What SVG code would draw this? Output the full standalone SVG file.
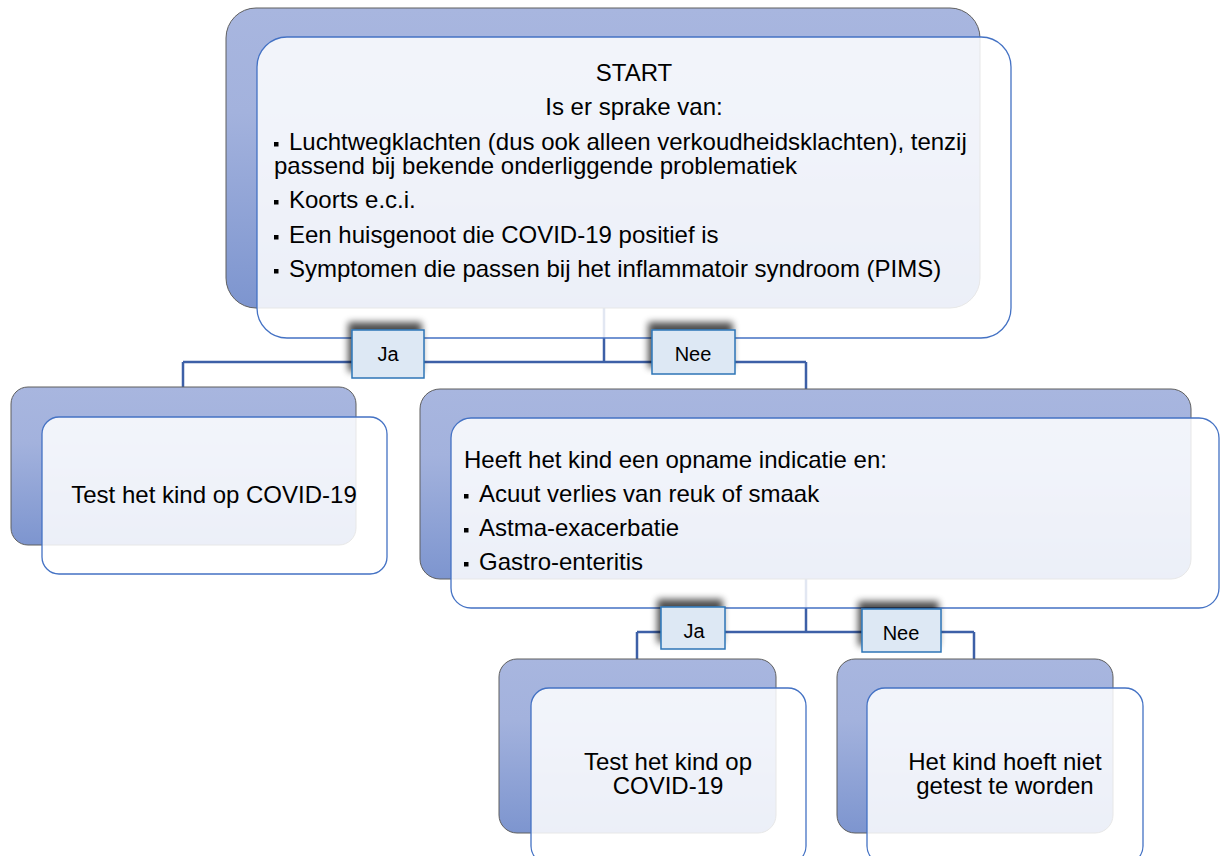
<svg xmlns="http://www.w3.org/2000/svg" width="1220" height="856" viewBox="0 0 1220 856">
<style>
.back{fill:url(#backGrad);stroke:#5f5f5f;stroke-width:1}
.front{fill:#ffffff;fill-opacity:0.85;stroke:#4472c4;stroke-width:1.3}
.txt{font-family:"Liberation Sans",Arial,sans-serif;font-size:24px;fill:#000}
.mid{text-anchor:middle}
.bul{fill:#000}
.conn{fill:none;stroke:#3d60a7;stroke-width:2.5}
.lbl{fill:#dde8f4;stroke:#2e75b6;stroke-width:1.5;filter:url(#sh)}
.ltxt{font-family:"Liberation Sans",Arial,sans-serif;font-size:20px;fill:#000;text-anchor:middle}
</style>
<defs>
<linearGradient id="backGrad" x1="0" y1="0" x2="0" y2="1">
<stop offset="0" stop-color="#a8b6df"/>
<stop offset="0.35" stop-color="#a3b2dd"/>
<stop offset="1" stop-color="#7d95cf"/>
</linearGradient>
<filter id="sh" x="-30%" y="-50%" width="160%" height="200%">
<feGaussianBlur in="SourceAlpha" stdDeviation="3.5"/>
<feOffset dx="-3" dy="-7" result="b"/>
<feComponentTransfer><feFuncA type="linear" slope="0.7"/></feComponentTransfer>
<feMerge><feMergeNode/><feMergeNode in="SourceGraphic"/></feMerge>
</filter>
</defs>
<rect width="1220" height="856" fill="#fff"/>

<g id="connectors">
<path class="conn" d="M604,308 V362 M183,362 H806 M183,362 V388 M806,362 V389"/>
<path class="conn" d="M806,579 V632 M637,632 H974 M637,632 V659 M974,632 V659"/>
</g>

<g id="node-start">
<rect class="back" x="226" y="8" width="754" height="300" rx="30"/>
<rect class="front" x="257" y="37" width="754" height="301" rx="30"/>
<text class="txt mid" x="634" y="81">START</text>
<text class="txt mid" x="634" y="115">Is er sprake van:</text>
<rect class="bul" x="274" y="142" width="4.5" height="4.5"/>
<text class="txt" x="289" y="150">Luchtwegklachten (dus ook alleen verkoudheidsklachten), tenzij</text>
<text class="txt" x="274" y="174">passend bij bekende onderliggende problematiek</text>
<rect class="bul" x="274" y="200" width="4.5" height="4.5"/>
<text class="txt" x="289" y="208">Koorts e.c.i.</text>
<rect class="bul" x="274" y="235" width="4.5" height="4.5"/>
<text class="txt" x="289" y="243">Een huisgenoot die COVID-19 positief is</text>
<rect class="bul" x="274" y="269" width="4.5" height="4.5"/>
<text class="txt" x="289" y="277">Symptomen die passen bij het inflammatoir syndroom (PIMS)</text>
</g>

<g id="node-test-1">
<rect class="back" x="11" y="387" width="345" height="158" rx="17"/>
<rect class="front" x="42" y="417" width="345" height="157" rx="17"/>
<text class="txt mid" x="214" y="503">Test het kind op COVID-19</text>
</g>

<g id="node-opname">
<rect class="back" x="420" y="389" width="771" height="190" rx="20"/>
<rect class="front" x="451" y="418" width="768" height="190" rx="20"/>
<text class="txt" x="464" y="468">Heeft het kind een opname indicatie en:</text>
<rect class="bul" x="464" y="494" width="4.5" height="4.5"/>
<text class="txt" x="479" y="502">Acuut verlies van reuk of smaak</text>
<rect class="bul" x="464" y="528" width="4.5" height="4.5"/>
<text class="txt" x="479" y="536">Astma-exacerbatie</text>
<rect class="bul" x="464" y="562" width="4.5" height="4.5"/>
<text class="txt" x="479" y="570">Gastro-enteritis</text>
</g>

<g id="node-test-2">
<rect class="back" x="499" y="659" width="277" height="174" rx="18"/>
<rect class="front" x="531" y="688" width="275" height="176" rx="18"/>
<text class="txt mid" x="668" y="770">Test het kind op</text>
<text class="txt mid" x="668" y="794">COVID-19</text>
</g>

<g id="node-niet">
<rect class="back" x="837" y="659" width="276" height="174" rx="18"/>
<rect class="front" x="867" y="688" width="276" height="176" rx="18"/>
<text class="txt mid" x="1005" y="770">Het kind hoeft niet</text>
<text class="txt mid" x="1005" y="794">getest te worden</text>
</g>

<g id="edge-labels">
<rect class="lbl" x="352" y="330" width="72" height="48"/>
<text class="ltxt" x="388" y="361">Ja</text>
<rect class="lbl" x="652" y="330" width="83" height="44"/>
<text class="ltxt" x="693" y="361">Nee</text>
<rect class="lbl" x="661" y="607" width="64" height="42"/>
<text class="ltxt" x="694" y="638">Ja</text>
<rect class="lbl" x="862" y="609" width="79" height="43"/>
<text class="ltxt" x="901" y="640">Nee</text>
</g>
</svg>
